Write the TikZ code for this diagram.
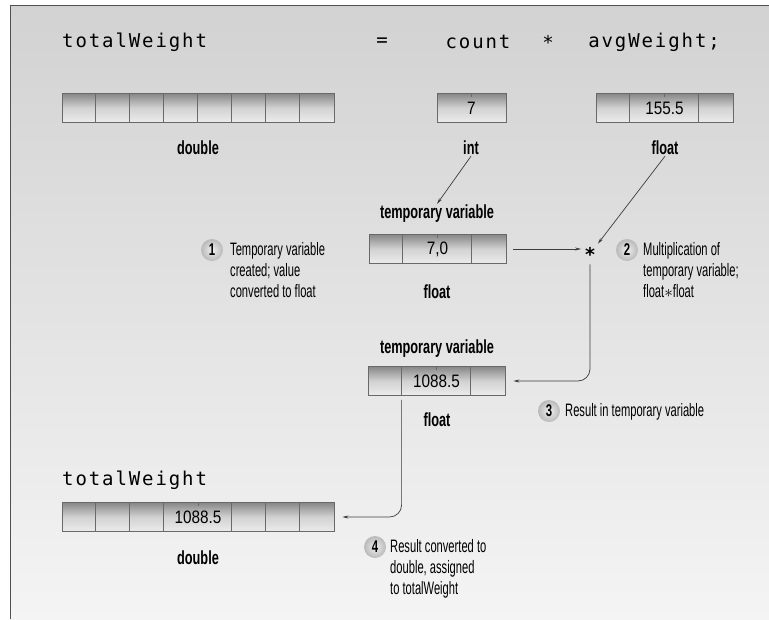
\documentclass[tikz,border=0pt]{standalone}
\usepackage{fontspec}
\usepackage{tikz}
\usetikzlibrary{shapes,arrows,arrows.meta,positioning,calc}

\newfontfamily\condfont[FakeStretch=0.67]{Liberation Sans}
\newfontfamily\notefont[FakeStretch=0.62]{Liberation Sans}
\newfontfamily\digitfont[FakeStretch=0.85]{Liberation Sans}
\newfontfamily\codefont[LetterSpace=10]{DejaVu Sans Mono}

\definecolor{bgtop}{RGB}{210,210,210}
\definecolor{bgbot}{RGB}{244,244,244}
\definecolor{framegray}{RGB}{80,80,80}
\definecolor{cellline}{RGB}{105,105,105}
\definecolor{celltop}{RGB}{135,135,135}
\definecolor{cellmid}{RGB}{210,210,210}
\definecolor{cellbot}{RGB}{236,236,236}
\definecolor{linegray}{RGB}{60,60,60}

\tikzset{
  code/.style={font=\codefont\fontsize{19}{21}\selectfont, inner sep=0pt},
  mem/.style={draw=cellline, line width=0.8pt, top color=celltop, bottom color=cellbot,
    middle color=cellmid, minimum height=29, inner sep=0pt},
  val/.style={font=\digitfont\fontsize{18}{18}\selectfont},
  divider/.style={draw=cellline, line width=0.8pt},
  tickmark/.style={draw=cellline, line width=0.6pt},
  typelbl/.style={font=\condfont\bfseries\fontsize{19}{21}\selectfont, inner sep=1pt},
  note/.style={font=\notefont\fontsize{18}{21}\selectfont, align=left, inner sep=0pt, anchor=north west},
  badge/.style={circle, minimum size=22, inner sep=0pt, inner color=gray!12, outer color=gray!55,
    font=\condfont\bfseries\fontsize{17}{17}\selectfont},
  conn/.style={draw=linegray, line width=0.7pt, -{Stealth[length=6pt,width=3pt]}}
}

\begin{document}
\begin{tikzpicture}[x=1pt,y=-1pt]
  \useasboundingbox (0,0) rectangle (769,619);

  % Background and frame
  \shade[top color=bgtop, bottom color=bgbot] (10,5) rectangle (769,619);
  \draw[framegray, line width=0.8pt] (10,619) -- (10,5) -- (769,5);

  % Statement
  \node[code, anchor=west] (stmtlhs) at (62,42) {totalWeight};
  \node[code] (stmteq) at (382,42) {=};
  \node[code] (stmtcount) at (478,42) {count};
  \node[code] (stmtmul) at (548,42) {*};
  \node[code, anchor=east] (stmtavg) at (720,42) {avgWeight;};

  % Variables in memory
  \node[mem, minimum width=272] (totbox) at (198,108) {};
  \foreach \i in {1,...,7}
    \draw[divider] ($(totbox.north west)+(\i*34,0)$) -- ($(totbox.south west)+(\i*34,0)$);

  \node[mem, val, minimum width=69] (intbox) at (471.5,108) {7};
  \draw[tickmark] (intbox.north) -- ++(0,4);

  \node[mem, val, minimum width=137] (avgbox) at (664.5,108) {155.5};
  \foreach \d in {34,103}
    \draw[divider] ($(avgbox.north west)+(\d,0)$) -- ($(avgbox.south west)+(\d,0)$);
  \draw[tickmark] (avgbox.north) -- ++(0,4);

  \node[typelbl] (totlbl) at (198,148) {double};
  \node[typelbl] (intlbl) at (471,148) {int};
  \node[typelbl] (avglbl) at (665,148) {float};

  % Temporary variable 1
  \node[typelbl] (tmplbl) at (437,214) {temporary variable};
  \node[mem, val, minimum width=137] (tmpbox) at (437.5,249) {7,0};
  \foreach \d in {34,103}
    \draw[divider] ($(tmpbox.north west)+(\d,0)$) -- ($(tmpbox.south west)+(\d,0)$);
  \draw[tickmark] (tmpbox.north) -- ++(0,4);
  \node[typelbl] (tmptype) at (437,292) {float};

  \node[code, font=\codefont\bfseries\fontsize{19}{21}\selectfont, inner sep=3pt] (star) at (590,254) {*};

  % Temporary variable 2
  \node[typelbl] (reslbl) at (437,349) {temporary variable};
  \node[mem, val, minimum width=137] (resbox) at (436.5,381) {1088.5};
  \foreach \d in {34,103}
    \draw[divider] ($(resbox.north west)+(\d,0)$) -- ($(resbox.south west)+(\d,0)$);
  \draw[tickmark] (resbox.north) -- ++(0,4);
  \node[typelbl] (restype) at (437,420) {float};

  % Result
  \node[code, anchor=west] (finname) at (62,480) {totalWeight};
  \node[mem, val, minimum width=272] (finbox) at (198,517) {1088.5};
  \foreach \d in {34,68,102,170,204,238}
    \draw[divider] ($(finbox.north west)+(\d,0)$) -- ($(finbox.south west)+(\d,0)$);
  \draw[tickmark] (finbox.north) -- ++(0,4);
  \node[typelbl] (fintype) at (198,558) {double};

  % Steps
  \node[badge] (b1) at (212,250) {1};
  \node[note] (n1) at (230,242) {Temporary variable\\created; value\\converted to float};
  \node[badge] (b2) at (627,250) {2};
  \node[note] (n2) at (643,242) {Multiplication of\\temporary variable;\\float$\ast$float};
  \node[badge] (b3) at (549,411) {3};
  \node[note] (n3) at (565,403) {Result in temporary variable};
  \node[badge] (b4) at (375,547) {4};
  \node[note] (n4) at (390,539) {Result converted to\\double, assigned\\to totalWeight};

  % Connectors
  \draw[conn] (intlbl.south) -- (tmplbl.north);
  \draw[conn] (avglbl.south) -- (star);
  \draw[conn, shorten <=7pt] (tmpbox.east) -- (tmpbox.east -| star.west);
  \draw[conn, rounded corners=12pt, shorten >=8pt] (star.south) |- (resbox.east);
  \draw[conn, rounded corners=12pt, shorten >=8pt] ($(resbox.south west)+(34,4)$) |- (finbox.east);
\end{tikzpicture}
\end{document}
